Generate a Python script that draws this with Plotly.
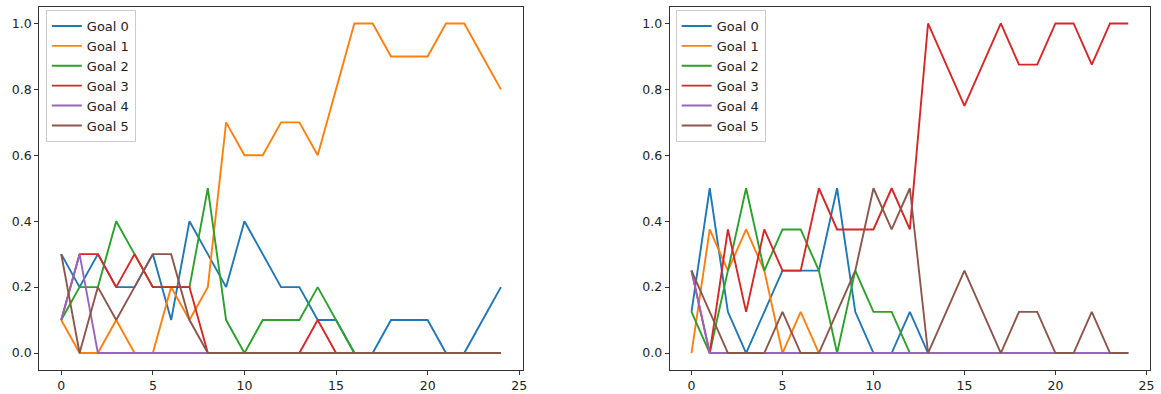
import plotly.graph_objects as go

steps = list(range(25))
goal_names = ["Goal 0", "Goal 1", "Goal 2", "Goal 3", "Goal 4", "Goal 5"]
colors = ["#1f77b4", "#ff7f0e", "#2ca02c", "#d62728", "#9467bd", "#8c564b"]

# Left panel
left_goal0 = [0.3, 0.2, 0.3, 0.2, 0.2, 0.3, 0.1, 0.4, 0.3, 0.2, 0.4, 0.3, 0.2, 0.2, 0.1, 0.1, 0.0, 0.0, 0.1, 0.1, 0.1, 0.0, 0.0, 0.1, 0.2]
left_goal1 = [0.1, 0.0, 0.0, 0.1, 0.0, 0.0, 0.2, 0.1, 0.2, 0.7, 0.6, 0.6, 0.7, 0.7, 0.6, 0.8, 1.0, 1.0, 0.9, 0.9, 0.9, 1.0, 1.0, 0.9, 0.8]
left_goal2 = [0.1, 0.2, 0.2, 0.4, 0.3, 0.2, 0.2, 0.2, 0.5, 0.1, 0.0, 0.1, 0.1, 0.1, 0.2, 0.1, 0.0, 0.0, 0.0, 0.0, 0.0, 0.0, 0.0, 0.0, 0.0]
left_goal3 = [0.1, 0.3, 0.3, 0.2, 0.3, 0.2, 0.2, 0.2, 0.0, 0.0, 0.0, 0.0, 0.0, 0.0, 0.1, 0.0, 0.0, 0.0, 0.0, 0.0, 0.0, 0.0, 0.0, 0.0, 0.0]
left_goal4 = [0.1, 0.3, 0.0, 0.0, 0.0, 0.0, 0.0, 0.0, 0.0, 0.0, 0.0, 0.0, 0.0, 0.0, 0.0, 0.0, 0.0, 0.0, 0.0, 0.0, 0.0, 0.0, 0.0, 0.0, 0.0]
left_goal5 = [0.3, 0.0, 0.2, 0.1, 0.2, 0.3, 0.3, 0.1, 0.0, 0.0, 0.0, 0.0, 0.0, 0.0, 0.0, 0.0, 0.0, 0.0, 0.0, 0.0, 0.0, 0.0, 0.0, 0.0, 0.0]

# Right panel
right_goal0 = [0.125, 0.5, 0.125, 0.0, 0.125, 0.25, 0.25, 0.25, 0.5, 0.125, 0.0, 0.0, 0.125, 0.0, 0.0, 0.0, 0.0, 0.0, 0.0, 0.0, 0.0, 0.0, 0.0, 0.0, 0.0]
right_goal1 = [0.0, 0.375, 0.25, 0.375, 0.25, 0.0, 0.125, 0.0, 0.0, 0.0, 0.0, 0.0, 0.0, 0.0, 0.0, 0.0, 0.0, 0.0, 0.0, 0.0, 0.0, 0.0, 0.0, 0.0, 0.0]
right_goal2 = [0.125, 0.0, 0.25, 0.5, 0.25, 0.375, 0.375, 0.25, 0.0, 0.25, 0.125, 0.125, 0.0, 0.0, 0.0, 0.0, 0.0, 0.0, 0.0, 0.0, 0.0, 0.0, 0.0, 0.0, 0.0]
right_goal3 = [0.25, 0.0, 0.375, 0.125, 0.375, 0.25, 0.25, 0.5, 0.375, 0.375, 0.375, 0.5, 0.375, 1.0, 0.875, 0.75, 0.875, 1.0, 0.875, 0.875, 1.0, 1.0, 0.875, 1.0, 1.0]
right_goal4 = [0.25, 0.0, 0.0, 0.0, 0.0, 0.0, 0.0, 0.0, 0.0, 0.0, 0.0, 0.0, 0.0, 0.0, 0.0, 0.0, 0.0, 0.0, 0.0, 0.0, 0.0, 0.0, 0.0, 0.0, 0.0]
right_goal5 = [0.25, 0.125, 0.0, 0.0, 0.0, 0.125, 0.0, 0.0, 0.125, 0.25, 0.5, 0.375, 0.5, 0.0, 0.125, 0.25, 0.125, 0.0, 0.125, 0.125, 0.0, 0.0, 0.125, 0.0, 0.0]

x_ticks = [0, 5, 10, 15, 20, 25]
y_ticks = [0.0, 0.2, 0.4, 0.6, 0.8, 1.0]

left_series = [left_goal0, left_goal1, left_goal2, left_goal3, left_goal4, left_goal5]
right_series = [right_goal0, right_goal1, right_goal2, right_goal3, right_goal4, right_goal5]

W, H = 1161, 394
FONT = "DejaVu Sans"

fig = go.Figure()
for name, col, ys in zip(goal_names, colors, left_series):
    fig.add_trace(go.Scatter(x=steps, y=ys, mode="lines", name=name,
                             line=dict(color=col, width=1.9),
                             xaxis="x", yaxis="y", legend="legend"))
for name, col, ys in zip(goal_names, colors, right_series):
    fig.add_trace(go.Scatter(x=steps, y=ys, mode="lines", name=name,
                             line=dict(color=col, width=1.9),
                             xaxis="x2", yaxis="y2", legend="legend2"))

ydom = [1 - 369.5 / H, 1 - 7 / H]
axis_common = dict(showgrid=False, zeroline=False, showline=True, mirror=True,
                   linecolor="#333333", linewidth=1, ticks="outside", ticklen=4,
                   tickcolor="#333333", tickwidth=1,
                   tickfont=dict(family=FONT, size=12.5, color="#222222"))

legend_common = dict(bgcolor="rgba(255,255,255,0.8)", bordercolor="#cccccc", borderwidth=1,
                     font=dict(family=FONT, size=13, color="#222222"),
                     xanchor="left", yanchor="top", tracegroupgap=0)

fig.update_layout(
    width=W, height=H,
    margin=dict(l=0, r=0, t=0, b=0),
    paper_bgcolor="white", plot_bgcolor="white",
    showlegend=True,
    xaxis=dict(domain=[39.4 / W, 524.7 / W], range=[-1.2, 25.2], tickvals=x_ticks,
               anchor="y", **axis_common),
    yaxis=dict(domain=ydom, range=[-0.05, 1.05], tickvals=y_ticks, tickformat=".1f",
               anchor="x", **axis_common),
    xaxis2=dict(domain=[672 / W, 1154 / W], range=[-1.2, 25.2], tickvals=x_ticks,
                anchor="y2", **axis_common),
    yaxis2=dict(domain=ydom, range=[-0.05, 1.05], tickvals=y_ticks, tickformat=".1f",
                anchor="x2", **axis_common),
    legend=dict(x=46 / W, y=1 - 10 / H, **legend_common),
    legend2=dict(x=678 / W, y=1 - 10 / H, **legend_common),
)

fig.write_html("out.html")
